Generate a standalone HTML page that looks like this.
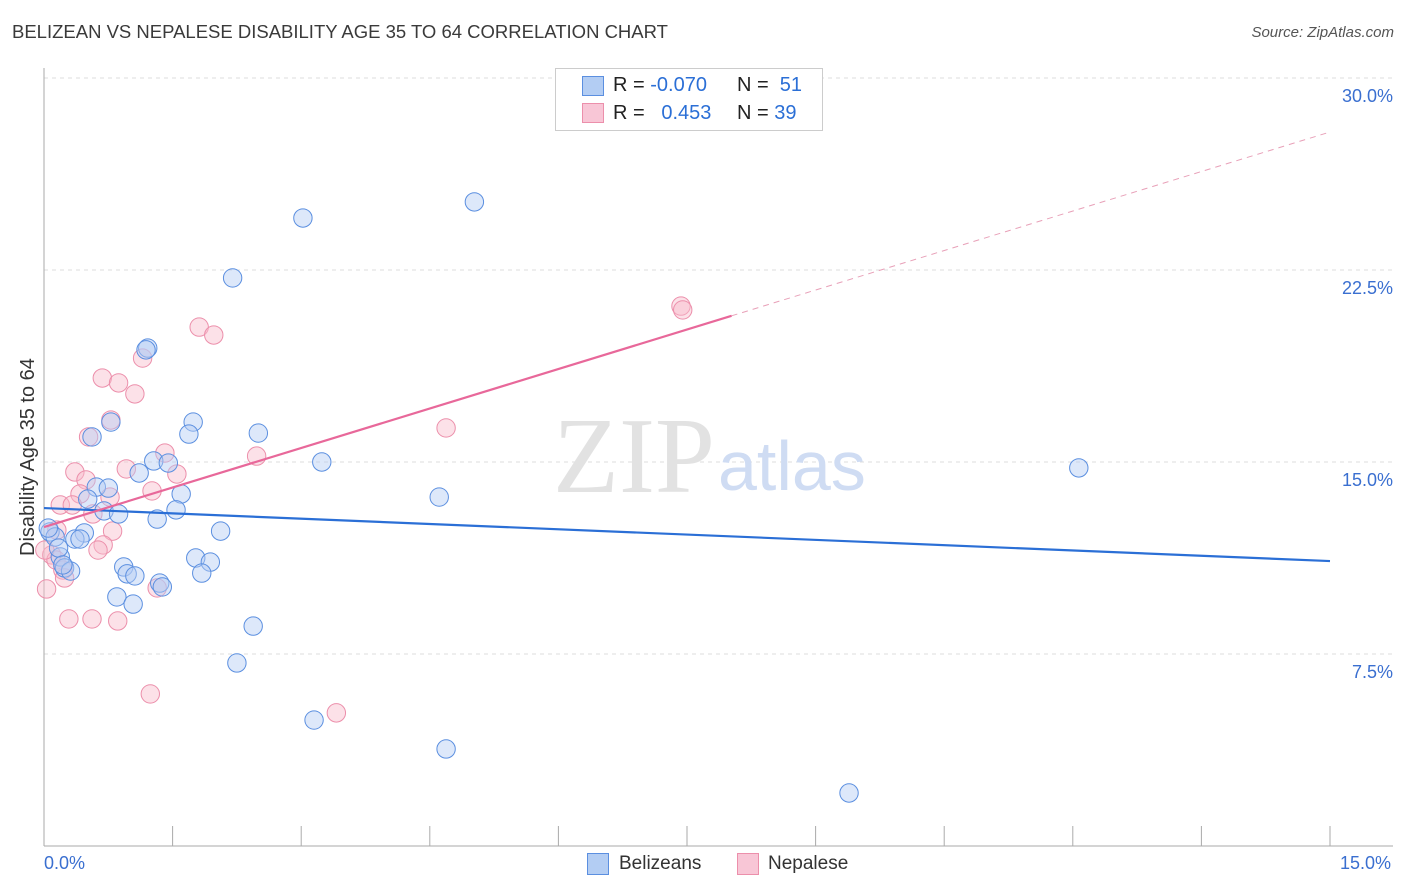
<!DOCTYPE html>
<html><head><meta charset="utf-8"><style>
body{margin:0;background:#fff;font-family:"Liberation Sans",sans-serif;}
#wrap{position:relative;width:1406px;height:892px;overflow:hidden}
.t{position:absolute;white-space:nowrap}
</style></head><body>
<div id="wrap">
<div class="t" style="left:12px;top:21px;font-size:18.5px;color:#3a3a3a">BELIZEAN VS NEPALESE DISABILITY AGE 35 TO 64 CORRELATION CHART</div>
<div class="t" style="right:12px;top:24px;font-size:15px;color:#555;font-style:italic">Source: ZipAtlas.com</div>
<svg id="svg" width="1406" height="892" style="position:absolute;left:0;top:0"></svg>
</div>
<script>
const blueX=[5.02,3.02,2.20,1.21,1.19,1.74,0.78,0.56,1.69,2.50,3.24,1.28,1.45,12.07,1.11,0.61,0.75,1.60,0.51,4.61,0.70,0.87,1.54,1.32,2.06,0.47,0.07,0.13,0.36,0.42,0.19,1.77,1.94,0.24,0.31,0.93,0.97,1.06,1.35,1.38,1.84,0.85,1.04,2.44,2.25,3.15,4.69,9.39,0.05,0.17,0.22];
const blueY=[25.16,24.53,22.19,19.45,19.38,16.56,16.56,15.98,16.09,16.13,15.0,15.04,14.96,14.77,14.57,14.02,13.98,13.75,13.55,13.63,13.09,12.97,13.13,12.77,12.30,12.23,12.27,12.07,11.99,11.99,11.29,11.25,11.09,10.86,10.74,10.90,10.63,10.55,10.27,10.12,10.66,9.73,9.45,8.59,7.15,4.92,3.79,2.07,12.42,11.64,10.98];
const pinkX=[7.43,7.45,1.81,1.98,1.15,0.68,0.87,1.06,0.78,0.52,4.69,1.41,2.48,0.36,0.96,1.55,0.49,1.26,0.42,0.77,0.19,0.33,0.57,0.80,0.69,0.63,0.09,0.14,0.22,0.24,0.03,1.32,0.29,0.56,0.86,1.24,3.41,0.15,0.01];
const pinkY=[21.09,20.94,20.27,19.96,19.06,18.28,18.09,17.66,16.64,15.98,16.33,15.35,15.23,14.61,14.73,14.53,14.30,13.87,13.75,13.63,13.32,13.32,12.97,12.30,11.76,11.56,11.37,11.17,10.78,10.47,10.04,10.08,8.87,8.87,8.79,5.94,5.20,12.34,11.56];
const blueTrend=[13.20,11.13];
const pinkTrend=[12.46,27.89];
const pinkSolidEnd=8.02;
const yTicks=[7.5,15.0,22.5,30.0];
const xTicks=[0,1.5,3,4.5,6,7.5,9,10.5,12,13.5,15];

const NS="http://www.w3.org/2000/svg";
const svg=document.getElementById('svg');
const X0=44,X1=1330,Y0=846,PY=768/30;
const sx=v=>X0+(X1-X0)*v/15;
const sy=v=>Y0-v*PY;
function mk(tag,attrs,parent){const e=document.createElementNS(NS,tag);for(const k in attrs)e.setAttribute(k,attrs[k]);(parent||svg).appendChild(e);return e;}
yTicks.forEach(v=>{
 const g=mk('line',{x1:X0,x2:1393,y1:sy(v),y2:sy(v),stroke:'#ddd','stroke-dasharray':'4,4'});
 
 
 const t=mk('text',{x:1393,y:sy(v)+24,'text-anchor':'end','font-size':18,fill:'#3a6fd0','font-family':'Liberation Sans, sans-serif'});
 t.textContent=v.toFixed(1)+'%';
 
 
});
const ya=mk('line',{x1:X0,x2:X0,y1:68,y2:Y0,stroke:'#aaa'});


const xa=mk('line',{x1:X0,x2:1393,y1:Y0,y2:Y0,stroke:'#aaa'});


xTicks.forEach(v=>{
 const l=mk('line',{x1:sx(v),x2:sx(v),y1:826,y2:Y0,stroke:'#aaa'});
 
 
});
const w1=mk('text',{x:553,y:492,'font-size':108,fill:'#e2e2e2','font-family':'Liberation Serif, serif'});w1.textContent='ZIP';


const w2=mk('text',{x:718,y:490,'font-size':70,fill:'#cfdcf3','font-family':'Liberation Sans, sans-serif'});w2.textContent='atlas';


function pts(xs,ys,fill,stroke,name){xs.forEach((x,i)=>{
 const c=mk('circle',{cx:sx(x),cy:sy(ys[i]),r:9.2,fill:fill,'fill-opacity':0.45,stroke:stroke,'stroke-width':1});
 
 
});}
pts(pinkX,pinkY,'#f8bccd','#ec8fab','nepalese-point');
pts(blueX,blueY,'#b3cdf3','#5b8fe0','belizean-point');
const bt=mk('line',{x1:sx(0),y1:sy(blueTrend[0]),x2:sx(15),y2:sy(blueTrend[1]),stroke:'#2b6fd6','stroke-width':2.2});


const pAt=x=>pinkTrend[0]+(pinkTrend[1]-pinkTrend[0])*x/15;
const pt=mk('line',{x1:sx(0),y1:sy(pAt(0)),x2:sx(pinkSolidEnd),y2:sy(pAt(pinkSolidEnd)),stroke:'#e8689a','stroke-width':2.2});


const pd=mk('line',{x1:sx(pinkSolidEnd),y1:sy(pAt(pinkSolidEnd)),x2:sx(15),y2:sy(pAt(15)),stroke:'#e8a0b8','stroke-width':1,'stroke-dasharray':'6,5'});


</script>
<div class="t" style="left:17px;top:556px;font-size:20px;color:#333;transform:rotate(-90deg);transform-origin:0 0">Disability Age 35 to 64</div>
<div class="t" style="left:44px;top:853px;font-size:18px;color:#3a6fd0">0.0%</div>
<div class="t" style="left:1340px;top:853px;font-size:18px;color:#3a6fd0">15.0%</div>
<div class="t" style="left:555px;top:68px;width:266px;height:61px;border:1px solid #ccc;background:#fff;font-size:20px">
 <div style="position:absolute;left:26px;top:7px;width:20px;height:18px;background:#b3cdf3;border:1px solid #5b8fe0"></div>
 <div style="position:absolute;left:26px;top:34px;width:20px;height:18px;background:#f8c6d6;border:1px solid #ec8fab"></div>
 <div class="t" style="left:57px;top:5px;color:#222">R = <span style="color:#2b6fd6">-0.070</span></div>
 <div class="t" style="left:181px;top:5px;color:#222">N = &nbsp;<span style="color:#2b6fd6">51</span></div>
 <div class="t" style="left:57px;top:33px;color:#222">R = &nbsp;&nbsp;<span style="color:#2b6fd6">0.453</span></div>
 <div class="t" style="left:181px;top:33px;color:#222">N = <span style="color:#2b6fd6">39</span></div>
</div>
<div class="t" style="left:587px;top:853px;width:20px;height:20px;background:#b3cdf3;border:1px solid #5b8fe0"></div>
<div class="t" style="left:619px;top:853px;font-size:19px;color:#333">Belizeans</div>
<div class="t" style="left:737px;top:853px;width:20px;height:20px;background:#f8c6d6;border:1px solid #ec8fab"></div>
<div class="t" style="left:768px;top:853px;font-size:19px;color:#333">Nepalese</div>
</body></html>
